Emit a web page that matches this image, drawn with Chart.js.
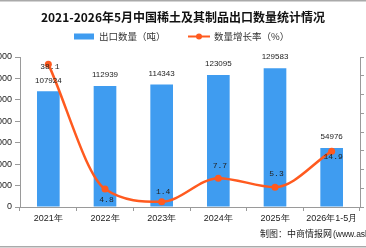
<!DOCTYPE html>
<html>
<head>
<meta charset="utf-8">
<script src="https://cdn.jsdelivr.net/npm/chart.js@4/dist/chart.umd.min.js"></script>
<style>
  html, body { margin: 0; padding: 0; background: #fff; }
  canvas { display: block; }
</style>
</head>
<body>
<canvas id="c" width="366" height="248"></canvas>
<script>
// 2021-2026年5月中国稀土及其制品出口数量统计情况

const categories = ['2021年', '2022年', '2023年', '2024年', '2025年', '2026年1-5月'];
const exportTons = [107924, 112939, 114343, 123095, 129583, 54976];
const growthRate = [38.1, 4.8, 1.4, 7.7, 5.3, 14.9];
const leftTicks = [0, 20000, 40000, 60000, 80000, 100000, 120000, 140000];
const rightTicks = [0, 5, 10, 15, 20, 25, 30, 35, 40];

const BLUE = '#3f9cf0';
const ORANGE = '#ff5a1f';
const AXIS = '#9a9a9a';

// vertical shift of each growth label relative to its point
const lineLabelDy = [3, 11, -10, -12, -13, 6];

const decorations = {
  id: 'decorations',
  afterDraw(chart) {
    const ctx = chart.ctx;
    const w = chart.width;
    ctx.save();

    // frame lines top / bottom
    ctx.fillStyle = '#aaaaaa';
    ctx.fillRect(0, 0, w, 1.5);
    ctx.fillRect(0, 246, w, 1.5);

    // title
    ctx.fillStyle = '#111';
    ctx.font = 'bold 12px "Noto Sans CJK SC", sans-serif';
    ctx.textAlign = 'center';
    ctx.textBaseline = 'middle';
    ctx.fillText('2021-2026年5月中国稀土及其制品出口数量统计情况', 183, 17);

    // legend
    ctx.font = '9.5px "Noto Sans CJK SC", sans-serif';
    ctx.textAlign = 'left';
    ctx.fillStyle = BLUE;
    ctx.fillRect(74, 33.5, 20, 6);
    ctx.fillStyle = '#333';
    ctx.fillText('出口数量（吨）', 99, 36.5);

    ctx.strokeStyle = ORANGE;
    ctx.lineWidth = 2;
    ctx.beginPath();
    ctx.moveTo(188, 36.5);
    ctx.lineTo(210, 36.5);
    ctx.stroke();
    ctx.fillStyle = ORANGE;
    ctx.beginPath();
    ctx.arc(199, 36.5, 3, 0, Math.PI * 2);
    ctx.fill();
    ctx.fillStyle = '#333';
    ctx.fillText('数量增长率（%）', 214, 36.5);

    // source
    ctx.font = '9px "Noto Sans CJK SC", sans-serif';
    ctx.fillStyle = '#222';
    ctx.fillText('制图：中商情报网', 260, 234);
    ctx.font = '8.5px "Liberation Sans", sans-serif';
    ctx.fillText('(www.askci.com)', 333, 234.5);

    ctx.restore();
  },
  afterDatasetsDraw(chart) {
    const ctx = chart.ctx;
    ctx.save();
    ctx.fillStyle = '#222';
    ctx.textAlign = 'center';
    ctx.textBaseline = 'middle';

    ctx.font = '8px "Liberation Sans", sans-serif';
    chart.getDatasetMeta(1).data.forEach((bar, i) => {
      ctx.fillText(String(exportTons[i]), bar.x, bar.y - 11);
    });

    ctx.font = '8px "Liberation Mono", monospace';
    chart.getDatasetMeta(0).data.forEach((pt, i) => {
      ctx.fillText(growthRate[i].toFixed(1), pt.x + 1.5, pt.y + lineLabelDy[i]);
    });
    ctx.restore();
  }
};

const tickFont = { family: '"Liberation Sans", sans-serif', size: 9 };

new Chart(document.getElementById('c'), {
  data: {
    labels: categories,
    datasets: [
      {
        type: 'line',
        label: '数量增长率（%）',
        data: growthRate,
        yAxisID: 'y1',
        borderColor: ORANGE,
        backgroundColor: ORANGE,
        borderWidth: 2.5,
        pointRadius: 3.5,
        pointBorderWidth: 0,
        cubicInterpolationMode: 'monotone',
        order: 0
      },
      {
        type: 'bar',
        label: '出口数量（吨）',
        data: exportTons,
        yAxisID: 'y',
        backgroundColor: BLUE,
        categoryPercentage: 0.8,
        barPercentage: 0.5,
        order: 1
      }
    ]
  },
  options: {
    responsive: false,
    animation: false,
    layout: { padding: { top: 57, bottom: 21, left: 0, right: 0 } },
    plugins: {
      legend: { display: false },
      title: { display: false },
      tooltip: { enabled: false }
    },
    scales: {
      x: {
        offset: true,
        grid: { display: true, drawOnChartArea: false, color: AXIS, tickLength: 4, offset: true },
        border: { color: AXIS },
        ticks: { color: '#222', font: tickFont, padding: 2, maxRotation: 0, autoSkip: false },
        afterFit(scale) { scale.height = 20; }
      },
      y: {
        position: 'left',
        min: 0,
        max: 140000,
        afterBuildTicks(scale) { scale.ticks = leftTicks.map(v => ({ value: v })); },
        grid: { drawOnChartArea: false, color: AXIS, tickLength: 5 },
        border: { color: AXIS },
        ticks: { color: '#222', font: tickFont, padding: 3 },
        afterFit(scale) { scale.width = 20; }
      },
      y1: {
        position: 'right',
        min: 0,
        max: 40,
        afterBuildTicks(scale) { scale.ticks = rightTicks.map(v => ({ value: v })); },
        grid: { drawOnChartArea: false, color: AXIS, tickLength: 4 },
        border: { color: AXIS },
        ticks: { color: '#222', font: tickFont, padding: 3 },
        afterFit(scale) { scale.width = 6; }
      }
    }
  },
  plugins: [decorations]
});
</script>
</body>
</html>
